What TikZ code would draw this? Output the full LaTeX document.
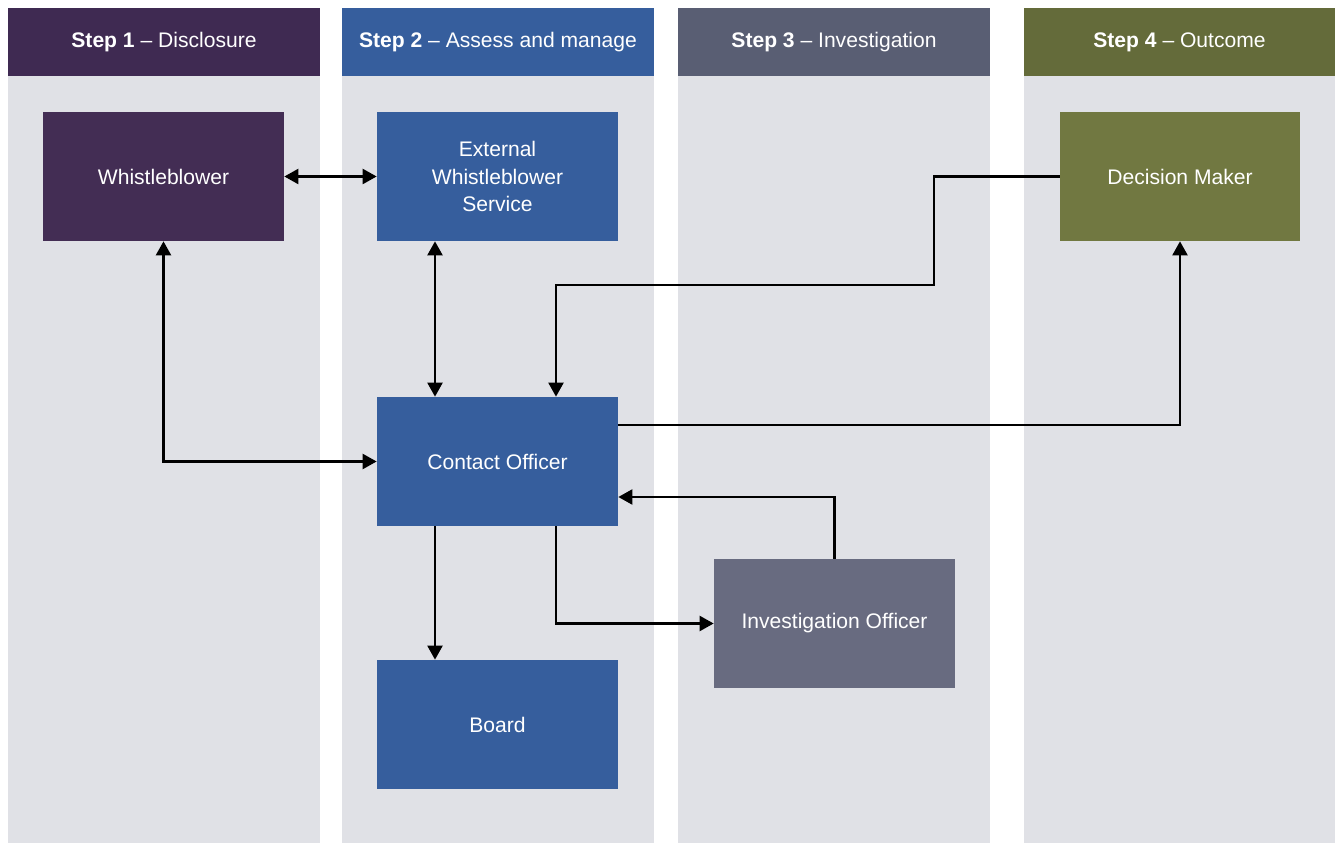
\documentclass[tikz,border=0pt]{standalone}
\usepackage{fontspec}
\setmainfont{Liberation Sans}
\usepackage{tikz}
\usetikzlibrary{arrows.meta, positioning, calc}
\definecolor{plum}{RGB}{63,42,82}
\definecolor{plumbox}{RGB}{67,45,84}
\definecolor{navy}{RGB}{54,94,157}
\definecolor{slate}{RGB}{89,94,115}
\definecolor{slatebox}{RGB}{104,107,128}
\definecolor{olive}{RGB}{100,107,58}
\definecolor{olivebox}{RGB}{113,120,65}
\definecolor{lanegray}{RGB}{224,225,230}

\begin{document}
\begin{tikzpicture}[
    x=0.2mm, y=-0.2mm,
    head/.style={fill=#1, text=white, minimum width=62.4mm, minimum height=13.6mm,
                 inner sep=0pt, font=\fontsize{12}{14}\selectfont},
    lane/.style={fill=lanegray, minimum width=62.4mm, minimum height=153.4mm, inner sep=0pt},
    box/.style={fill=#1, text=white, minimum width=48.2mm, minimum height=25.8mm,
                inner sep=0pt, align=center, font=\fontsize{12}{15.6}\selectfont},
    arr/.style={-{Triangle[length=2.8mm, width=3mm]}, line width=0.45mm},
    dbl/.style={{Triangle[length=2.8mm, width=3mm]}-{Triangle[length=2.8mm, width=3mm]}, line width=0.45mm}
  ]
    \fill[white] (0,0) rectangle (1335,843);
    \useasboundingbox (0,0) rectangle (1335,843);

    %% LANES
    \node[lane] (lane1) at (164,459.5) {};
    \node[lane] (lane2) at (498,459.5) {};
    \node[lane] (lane3) at (834,459.5) {};
    \node[lane] (lane4) at (1179.5,459.5) {};

    %% HEADERS
    \node[head=plum] (head1) at (164,42) {\textbf{Step 1} -- Disclosure};
    \node[head=navy] (head2) at (498,42) {\textbf{Step 2} -- Assess and manage};
    \node[head=slate] (head3) at (834,42) {\textbf{Step 3} -- Investigation};
    \node[head=olive] (head4) at (1179.5,42) {\textbf{Step 4} -- Outcome};

    %% BOXES
    \node[box=plumbox] (whistle) at (163.5,176.5) {Whistleblower};
    \node[box=navy] (ext) at (497.5,176.5) {External\\Whistleblower\\Service};
    \node[box=olivebox, minimum width=48mm] (dm) at (1180,176.5) {Decision Maker};
    \node[box=navy] (contact) at (497.5,461.5) {Contact Officer};
    \node[box=slatebox] (inv) at (834.5,623.5) {Investigation Officer};
    \node[box=navy] (board) at (497.5,724.5) {Board};

    \coordinate (bend) at (934,285);

    %% ARROWS
    \draw[dbl] (whistle) -- (ext);
    \draw[dbl] ([xshift=-12.5mm]ext.south) -- ([xshift=-12.5mm]contact.north);
    \draw[dbl] (whistle.south) |- (contact.west);
    \draw[arr] (dm.west) -| (bend) -| ([xshift=11.7mm]contact.north);
    \draw[arr] ([yshift=7.3mm]contact.east) -| (dm.south);
    \draw[arr] (inv.north) |- ([yshift=-7.1mm]contact.east);
    \draw[arr] ([xshift=11.7mm]contact.south) |- (inv.west);
    \draw[arr] ([xshift=-12.5mm]contact.south) -- ([xshift=-12.5mm]board.north);
\end{tikzpicture}
\end{document}
